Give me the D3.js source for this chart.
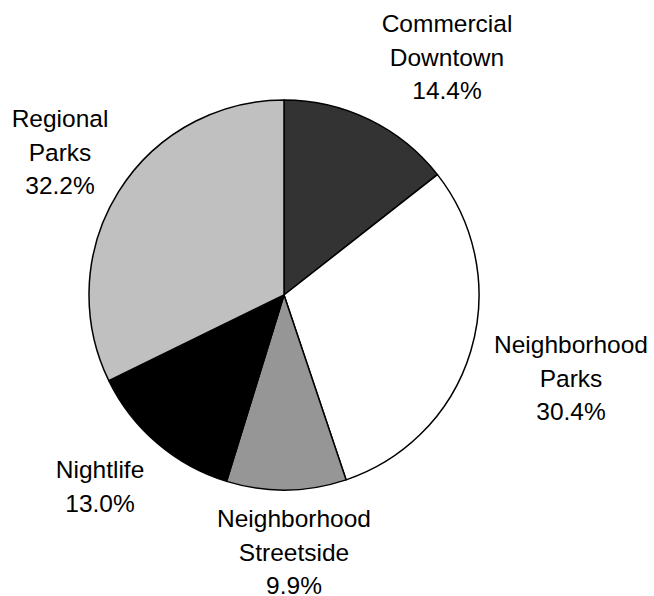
<!DOCTYPE html>
<html><head><meta charset="utf-8">
<script src="https://cdn.jsdelivr.net/npm/d3@7"></script>
<style>body{margin:0;background:#fff}</style>
</head><body>
<svg id="c" width="654" height="596"></svg>
<script>
const categories = ["Commercial Downtown","Neighborhood Parks","Neighborhood Streetside","Nightlife","Regional Parks"];
const values = [14.4, 30.4, 9.9, 13.0, 32.2];
const labelLines = [["Commercial","Downtown","14.4%"],["Neighborhood","Parks","30.4%"],["Neighborhood","Streetside","9.9%"],["Nightlife","13.0%"],["Regional","Parks","32.2%"]];
const colors = ["#333333","#ffffff","#969696","#000000","#c0c0c0"];

const W = 654, H = 596, cx = 284, cy = 295, R = 195;
// label anchor offsets from pie centre (first-line baseline), layout only
const labelPos = [[163,-263],[287,58],[10,232],[-184,183],[-224,-168]];
const lineH = 33.5;

const svg = d3.select("#c");
const g = svg.append("g").attr("transform", `translate(${cx},${cy})`);
const pie = d3.pie().sort(null).value(d => d);
const arc = d3.arc().innerRadius(0).outerRadius(R);
const color = d3.scaleOrdinal().domain(categories).range(colors);
const arcs = pie(values);
g.selectAll("path").data(arcs).join("path")
  .attr("d", arc)
  .attr("fill", (d,i) => color(categories[i]))
  .attr("stroke", "#000").attr("stroke-width", 1.5).attr("stroke-linejoin","round");

const lg = g.append("g");
labelLines.forEach((lines, i) => {
  const t = lg.append("text")
    .attr("x", labelPos[i][0]).attr("y", labelPos[i][1])
    .attr("text-anchor","middle")
    .attr("font-family","Liberation Sans, Arial, sans-serif")
    .attr("font-size", 24.5).attr("fill","#000");
  lines.forEach((l, j) => t.append("tspan").attr("x", labelPos[i][0]).attr("dy", j ? lineH : 0).text(l));
});
</script>
</body></html>
